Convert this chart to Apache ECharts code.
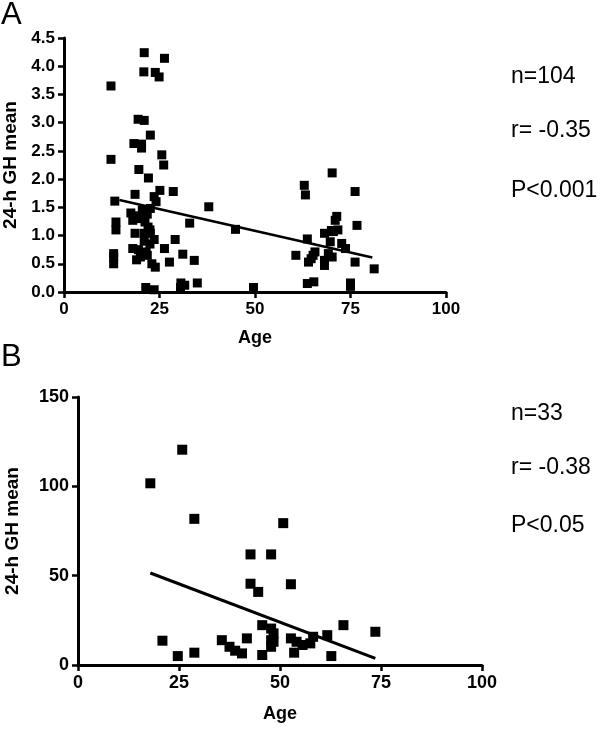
<!DOCTYPE html>
<html>
<head>
    <meta charset="UTF-8">
    <title></title>
    <script type="text/javascript" src="https://cdn.jsdelivr.net/npm/echarts@6/dist/echarts.min.js"></script>
    <style>
        html, body { margin: 0; padding: 0; background: #fff; }
        #chart { width: 600px; height: 730px; }
    </style>
</head>
<body>
<div id="chart"></div>
<script>
    // panel A: age vs 24-h GH mean
    var ageA = [12.3, 12.3, 13.3, 13.6, 13.6, 13.0, 13.0, 13.0, 21.0, 20.9, 23.9, 24.9, 26.3, 19.4, 21.0, 22.6,
        18.3, 20.3, 20.3, 25.6, 26.1, 19.6, 22.1, 28.6, 25.1, 23.6, 24.1, 18.6, 22.6, 17.5, 19.0, 18.0, 20.2,
        21.2, 22.0, 21.0, 22.6, 23.6, 18.6, 18.0, 19.5, 19.0, 21.5, 23.0, 23.9, 26.3, 29.1, 27.6, 31.1, 32.9,
        34.1, 30.6, 31.6, 30.5, 34.9, 21.4, 23.6, 37.9, 44.9, 49.6, 62.9, 63.2, 60.7, 63.7, 64.0, 64.7, 65.2,
        65.7, 63.7, 65.4, 68.2, 68.2, 68.2, 70.2, 69.7, 70.5, 71.0, 70.0, 71.4, 71.7, 69.2, 70.2, 72.7, 73.7,
        76.2, 76.7, 76.2, 75.0, 75.0, 81.2, 20.5, 21.8, 22.5, 21.0, 22.5, 20.0, 21.8];
    var ghA = [3.65, 2.35, 1.61, 1.24, 1.10, 0.68, 0.62, 0.50, 4.24, 3.90, 3.89, 3.81, 4.14, 3.06, 3.04, 2.78,
        2.63, 2.62, 2.55, 2.43, 2.25, 2.17, 2.02, 1.78, 1.80, 1.69, 1.60, 1.73, 1.48, 1.40, 1.35, 1.27, 1.30,
        1.24, 1.15, 1.04, 1.04, 0.93, 1.04, 0.77, 0.75, 0.57, 0.71, 0.50, 0.44, 0.77, 0.93, 0.53, 0.67, 1.22,
        0.56, 0.16, 0.12, 0.08, 0.16, 0.08, 0.04, 1.51, 1.11, 0.08, 1.89, 1.72, 0.65, 0.94, 0.53, 0.59, 0.65,
        0.71, 0.15, 0.18, 1.04, 0.47, 0.56, 2.11, 0.89, 1.07, 1.27, 1.09, 1.34, 1.10, 0.68, 0.62, 0.86, 0.77,
        1.78, 1.18, 0.53, 0.16, 0.10, 0.41, 1.45, 1.38, 1.10, 0.90, 0.85, 0.62, 0.65];
    var fitA = [[14.5, 1.63], [80.7, 0.61]];

    // panel B
    var ageB = [17.9, 25.8, 28.8, 50.8, 42.7, 47.8, 42.7, 44.6, 52.7, 20.9, 24.7, 28.8, 35.6, 37.5, 38.9, 40.6,
        41.8, 45.6, 47.8, 48.4, 47.8, 48.4, 47.8, 45.6, 52.7, 54.1, 53.5, 55.6, 57.5, 58.2, 61.7, 62.7, 65.7, 73.6];
    var ghB = [101.7, 120.5, 81.8, 79.4, 61.9, 61.9, 45.5, 40.9, 45.2, 13.6, 5.0, 6.9, 13.9, 10.2, 8.0, 6.5,
        14.9, 22.3, 20.4, 17.7, 13.9, 13.0, 10.2, 5.6, 14.9, 13.0, 6.9, 11.2, 12.1, 15.8, 16.7, 5.0, 22.3, 18.6];
    var fitB = [[17.9, 51.5], [73.6, 3.7]];

    var statsA = ['n=104', 'r= -0.35', 'P<0.001'];
    var statsB = ['n=33', 'r= -0.38', 'P<0.05'];

    function pairs(xs, ys) {
        var out = [];
        for (var i = 0; i < xs.length; i++) {
            out.push([xs[i], ys[i]]);
        }
        return out;
    }

    var FONT = '"Liberation Sans", Arial, sans-serif';

    function xAx(idx, gap, size) {
        return {
            gridIndex: idx, type: 'value', min: 0, max: 100, interval: 25,
            name: 'Age', nameLocation: 'middle', nameGap: gap,
            nameTextStyle: {color: '#000', fontWeight: 'bold', fontSize: 18, fontFamily: FONT},
            axisLine: {show: true, lineStyle: {color: '#000', width: 3}},
            axisTick: {show: true, length: 6, lineStyle: {color: '#000', width: 2.5}},
            axisLabel: {color: '#000', fontWeight: 'bold', fontSize: size, fontFamily: FONT, margin: 9},
            splitLine: {show: false}
        };
    }

    function yAx(idx, max, step, gap, size, fmt) {
        return {
            gridIndex: idx, type: 'value', min: 0, max: max, interval: step,
            name: '24-h GH mean', nameLocation: 'middle', nameGap: gap,
            nameTextStyle: {color: '#000', fontWeight: 'bold', fontSize: 19, fontFamily: FONT},
            axisLine: {show: true, lineStyle: {color: '#000', width: 3}},
            axisTick: {show: true, length: 6, lineStyle: {color: '#000', width: 2.5}},
            axisLabel: {color: '#000', fontWeight: 'bold', fontSize: size, fontFamily: FONT, margin: 9, formatter: fmt},
            splitLine: {show: false}
        };
    }

    function statText(lines, x, ys) {
        var els = [];
        for (var i = 0; i < lines.length; i++) {
            els.push({
                type: 'text', left: x, top: ys[i],
                style: {text: lines[i], fill: '#000', font: '23px ' + FONT}
            });
        }
        return els;
    }

    var myChart = echarts.init(document.getElementById('chart'));
    myChart.setOption({
        animation: false,
        backgroundColor: '#fff',
        grid: [
            {left: 64, right: 154, top: 38, height: 254, outerBoundsMode: 'none'},
            {left: 78, right: 118, top: 397, height: 268, outerBoundsMode: 'none'}
        ],
        xAxis: [xAx(0, 37, 17), xAx(1, 40, 18)],
        yAxis: [
            yAx(0, 4.5, 0.5, 44, 17, function (v) { return v.toFixed(1); }),
            yAx(1, 150, 50, 56, 18)
        ],
        graphic: [
            {type: 'text', left: 1, top: 0, style: {text: 'A', fill: '#000', font: '31px ' + FONT}},
            {type: 'text', left: 1, top: 342, style: {text: 'B', fill: '#000', font: '31px ' + FONT}}
        ].concat(statText(statsA, 511, [65, 119, 179])).concat(statText(statsB, 511, [402, 456, 514])),
        series: [
            {
                type: 'scatter', xAxisIndex: 0, yAxisIndex: 0, symbol: 'rect', symbolSize: 9,
                itemStyle: {color: '#000', opacity: 1}, data: pairs(ageA, ghA)
            },
            {
                type: 'line', xAxisIndex: 0, yAxisIndex: 0, showSymbol: false,
                lineStyle: {color: '#000', width: 2.5}, data: fitA
            },
            {
                type: 'scatter', xAxisIndex: 1, yAxisIndex: 1, symbol: 'rect', symbolSize: 10,
                itemStyle: {color: '#000', opacity: 1}, data: pairs(ageB, ghB)
            },
            {
                type: 'line', xAxisIndex: 1, yAxisIndex: 1, showSymbol: false,
                lineStyle: {color: '#000', width: 3}, data: fitB
            }
        ]
    });
</script>
</body>
</html>
